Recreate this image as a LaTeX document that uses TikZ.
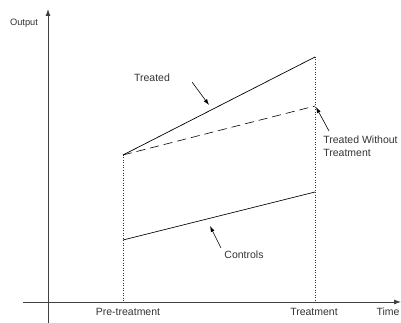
\documentclass[tikz,border=0pt]{standalone}
\usepackage{fontspec}
\setmainfont{Liberation Sans}
\usetikzlibrary{arrows.meta}

\begin{document}
\begin{tikzpicture}[x=1pt, y=-1pt, line width=0.7pt,
    lbl/.style={font=\fontsize{10.5}{12.5}\selectfont, text=black!80, inner sep=1pt},
    guide/.style={dotted, line width=0.5pt, black!80},
    pointer/.style={-{Latex[length=6pt,width=4pt]}, line width=0.6pt}]
  \useasboundingbox (0,0) rectangle (401,323);
  % axes
  \draw[-{Latex[length=7pt,width=5pt]}, black!75, line width=0.9pt] (48,323) -- (48,9);
  \draw[-{Latex[length=7pt,width=5pt]}, black!75, line width=0.9pt] (23,302) -- (401,302);
  \node[lbl, font=\fontsize{9.3}{11}\selectfont] (output) at (24,23) {Output};
  % points
  \coordinate (pre0) at (123,155);
  \coordinate (post1) at (315,57);
  \coordinate (post0) at (315,106);
  \coordinate (ctl0) at (123,240);
  \coordinate (ctl1) at (315,192);
  \coordinate (preb) at (123,302);
  \coordinate (postb) at (315,302);
  \draw[guide] (pre0) -- (preb);
  \draw[guide] (post1) -- (postb);
  % lines
  \draw (pre0) -- (post1);
  \draw[dash pattern=on 9pt off 5pt, line width=0.6pt] (pre0) -- (post0);
  \draw (ctl0) -- (ctl1);
  % labels
  \node[lbl] (treated) at (152,78) {Treated};
  \node[lbl, anchor=west, align=left] (twt) at (322,146) {Treated Without\\Treatment};
  \node[lbl] (controls) at (244,255) {Controls};
  \node[lbl] (pretick) at (128,312) {Pre-treatment};
  \node[lbl] (posttick) at (314,312) {Treatment};
  \node[lbl] (time) at (388,312) {Time};
  % pointers
  \coordinate (p1s) at (192,82);  \coordinate (p1e) at (209,105);
  \coordinate (p2s) at (329,131); \coordinate (p2e) at (316,107);
  \coordinate (p3s) at (221,248); \coordinate (p3e) at (210,226);
  \draw[pointer] (p1s) -- (p1e);
  \draw[pointer] (p2s) -- (p2e);
  \draw[pointer] (p3s) -- (p3e);
\end{tikzpicture}
\end{document}
